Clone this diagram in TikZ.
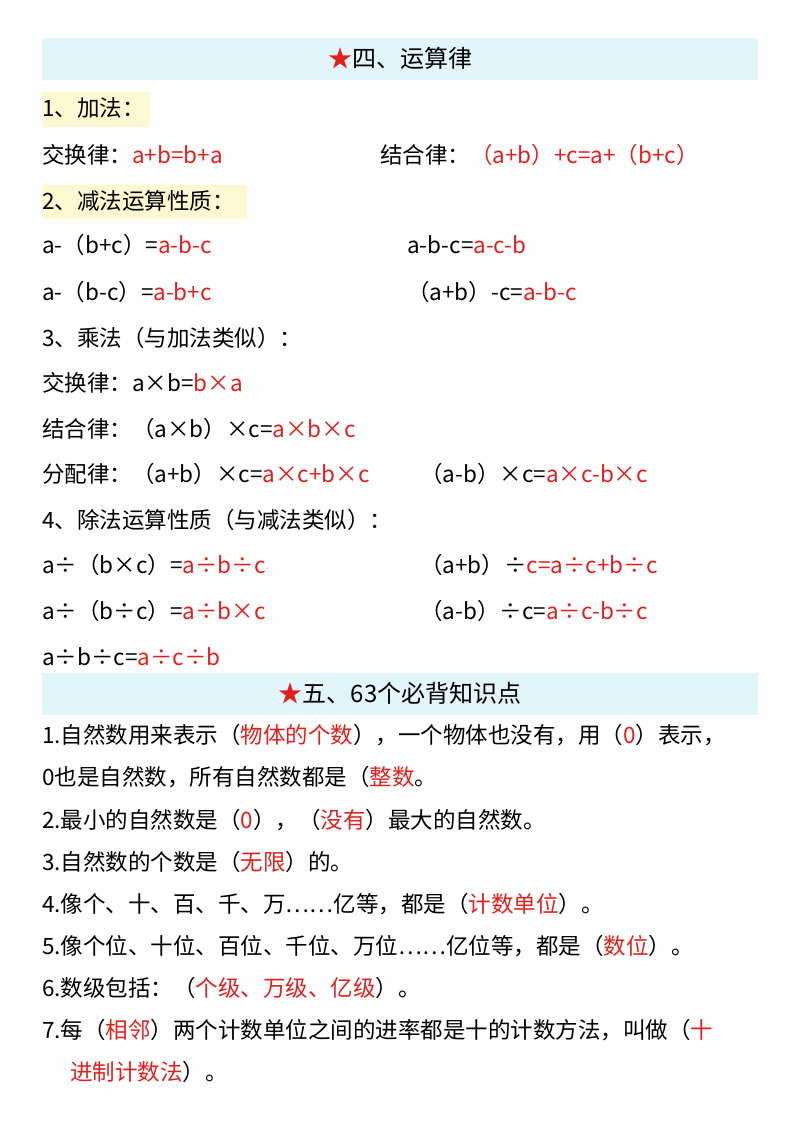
\documentclass[tikz,border=0pt]{standalone}
\usepackage{fontspec}
\setmainfont{Noto Sans CJK SC}
\definecolor{rd}{HTML}{E0201E}
\definecolor{band}{HTML}{E2F5FA}
\definecolor{hl}{HTML}{FBF8D2}
\newcommand{\R}[1]{\textcolor{rd}{#1}}
\begin{document}
\begin{tikzpicture}[x=1pt,y=-1pt,
  t/.style={anchor=west,inner sep=0pt,font=\fontsize{22.5}{26}\selectfont},
  h/.style={inner sep=0pt,font=\fontsize{24}{27}\selectfont}]
\useasboundingbox[fill=white] (0,0) rectangle (800,1132);
\fill[band] (42,38) rectangle (758,80);
\fill[band] (42,673) rectangle (758,715);
\fill[hl] (42,92) rectangle (150,127);
\fill[hl] (42,185) rectangle (247,219);
\node[h] (h1) at (400,58) {\R{★}四、运算律};
\node[t] (a1) at (42,108) {1、加法：};
\node[t] (a2) at (42,155) {交换律：\R{a+b=b+a}};
\node[t] (a3) at (380,155) {结合律：\R{（a+b）+c=a+（b+c）}};
\node[t] (b1) at (42,201) {2、减法运算性质：};
\node[t] (b2) at (42,245) {a-（b+c）=\R{a-b-c}};
\node[t] (b3) at (407,245) {a-b-c=\R{a-c-b}};
\node[t] (b4) at (42,292) {a-（b-c）=\R{a-b+c}};
\node[t] (b5) at (407,292) {（a+b）-c=\R{a-b-c}};
\node[t] (c1) at (42,338) {3、乘法（与加法类似）：};
\node[t] (c2) at (42,383) {交换律：a×b=\R{b×a}};
\node[t] (c3) at (42,429) {结合律：（a×b）×c=\R{a×b×c}};
\node[t] (c4) at (42,474) {分配律：（a+b）×c=\R{a×c+b×c}};
\node[t] (c5) at (420,474) {（a-b）×c=\R{a×c-b×c}};
\node[t] (d1) at (42,520) {4、除法运算性质（与减法类似）：};
\node[t] (d2) at (42,565) {a÷（b×c）=\R{a÷b÷c}};
\node[t] (d3) at (420,565) {（a+b）÷\R{c=a÷c+b÷c}};
\node[t] (d4) at (42,611) {a÷（b÷c）=\R{a÷b×c}};
\node[t] (d5) at (420,611) {（a-b）÷c=\R{a÷c-b÷c}};
\node[t] (d6) at (42,657) {a÷b÷c=\R{a÷c÷b}};
\node[h] (h2) at (400,693) {\R{★}五、63个必背知识点};
\node[t] (e1) at (42,735) {1.自然数用来表示（\R{物体的个数}），一个物体也没有，用（\R{0}）表示，};
\node[t] (e2) at (42,777) {0也是自然数，所有自然数都是（\R{整数}。};
\node[t] (e3) at (42,820) {2.最小的自然数是（\R{0}），（\R{没有}）最大的自然数。};
\node[t] (e4) at (42,862) {3.自然数的个数是（\R{无限}）的。};
\node[t] (e5) at (42,904) {4.像个、十、百、千、万……亿等，都是（\R{计数单位}）。};
\node[t] (e6) at (42,946) {5.像个位、十位、百位、千位、万位……亿位等，都是（\R{数位}）。};
\node[t] (e7) at (42,988) {6.数级包括：（\R{个级、万级、亿级}）。};
\node[t] (e8) at (42,1030) {7.每（\R{相邻}）两个计数单位之间的进率都是十的计数方法，叫做（\R{十}};
\node[t] (e9) at (70,1072) {\R{进制计数法}）。};
\end{tikzpicture}
\end{document}
